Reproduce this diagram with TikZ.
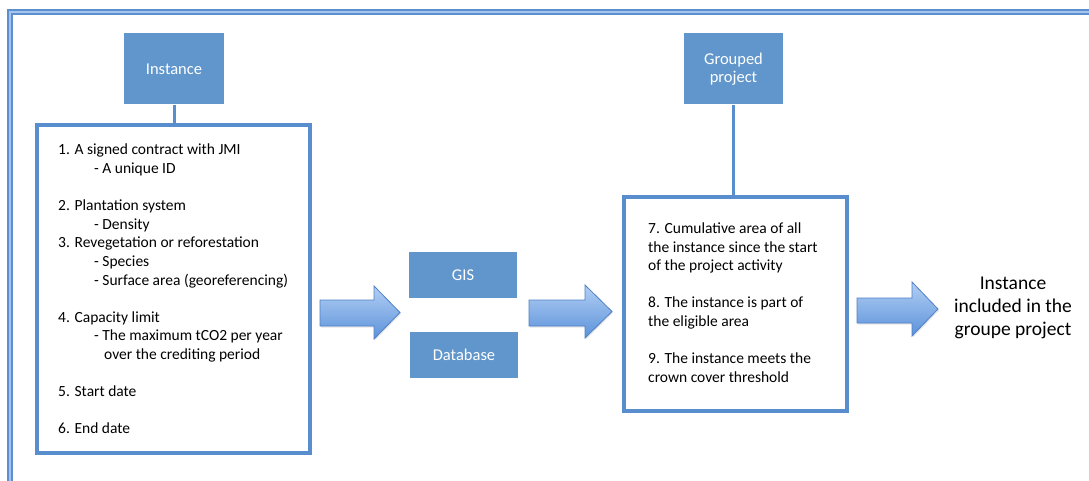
\documentclass[tikz,border=0pt]{standalone}
\usepackage{fontspec}
\setmainfont{Carlito}
\usetikzlibrary{shadows}

\definecolor{boxfill}{RGB}{96,150,203}
\definecolor{edgeblue}{RGB}{88,141,206}
\definecolor{framedark}{RGB}{92,142,208}
\definecolor{framelight}{RGB}{165,197,238}
\definecolor{arrowtop}{RGB}{178,207,244}
\definecolor{arrowbot}{RGB}{92,146,218}
\definecolor{arrowedge}{RGB}{78,128,198}

% block arrow: tail x, neck x, tip x, body top, body bottom, head top, head bottom
\newcommand\fatarrow[7]{%
  \shade[top color=arrowtop, bottom color=arrowbot, draw=arrowedge, line width=0.8pt,
         drop shadow={opacity=0.2, shadow xshift=1pt, shadow yshift=-1.5pt}]
    (#1,#4) -- (#2,#4) -- (#2,#6) -- (#3,{(#6+#7)/2}) -- (#2,#7) -- (#2,#5) -- (#1,#5) -- cycle;}

\tikzset{
  tag/.style={rectangle, fill=boxfill, text=white, inner sep=0pt, align=center,
              font=\fontsize{16.5}{17.6}\selectfont},
  listbox/.style={rectangle, draw=edgeblue, line width=3.4pt, fill=white, inner sep=0pt,
              drop shadow={opacity=0.25, shadow xshift=1.5pt, shadow yshift=-1.5pt}},
  listtext/.style={anchor=north west, inner sep=0pt, align=left,
              font=\fontsize{15.5}{18.6}\selectfont},
  link/.style={draw=edgeblue, line width=3pt},
  outcome/.style={inner sep=0pt, align=center, font=\fontsize{19.5}{22.7}\selectfont}
}

\begin{document}
\begin{tikzpicture}[x=1pt, y=-1pt]
\useasboundingbox (0,0) rectangle (1089,481);
\clip (0,0) rectangle (1089,481);

% surrounding frame, open to the right and bottom
\draw[framedark, line width=5.5pt, line join=miter] (1120,12) -- (10,12) -- (10,520);
\draw[framelight, line width=2pt, line join=miter] (1120,12) -- (10,12) -- (10,520);

% header tags
\node[tag, minimum width=100pt, minimum height=71pt] (inst) at (174,69) {Instance};
\node[tag, minimum width=99pt, minimum height=71pt] (grp) at (733.5,69) {Grouped\\project};

% requirement lists
\node[listbox, minimum width=273pt, minimum height=328pt] (reqs) at (173.5,289) {};
\node[listbox, minimum width=223pt, minimum height=214pt] (checks) at (735.5,304) {};

\draw[link] (inst.south) -- (inst.south |- reqs.north);
\draw[link] (grp.south) -- (grp.south |- checks.north);

\node[listtext] (reqtext) at (58,144) {%
1. A signed contract with JMI\\
\hspace*{36pt}- A unique ID\\[18.6pt]
2. Plantation system\\
\hspace*{36pt}- Density\\
3. Revegetation or reforestation\\
\hspace*{36pt}- Species\\
\hspace*{36pt}- Surface area (georeferencing)\\[18.6pt]
4. Capacity limit\\
\hspace*{36pt}- The maximum tCO2 per year\\
\hspace*{46pt}over the crediting period\\[18.6pt]
5. Start date\\[18.6pt]
6. End date};

\node[listtext] (checktext) at (648,222.5) {%
7. Cumulative area of all\\
the instance since the start\\
of the project activity\\[18.6pt]
8. The instance is part of\\
the eligible area\\[18.6pt]
9. The instance meets the\\
crown cover threshold};

% tools
\node[tag, minimum width=108pt, minimum height=46pt] (gis) at (463,275) {GIS};
\node[tag, minimum width=108pt, minimum height=46pt] (db) at (464,355) {Database};

% flow arrows
\fatarrow{320}{374}{400}{300}{326}{286}{339}
\fatarrow{529}{585}{612}{300}{326}{285}{338}
\fatarrow{857}{912}{938}{298}{323}{282}{336}

\node[outcome] (result) at (1013,308) {Instance\\included in the\\groupe project};
\end{tikzpicture}
\end{document}
